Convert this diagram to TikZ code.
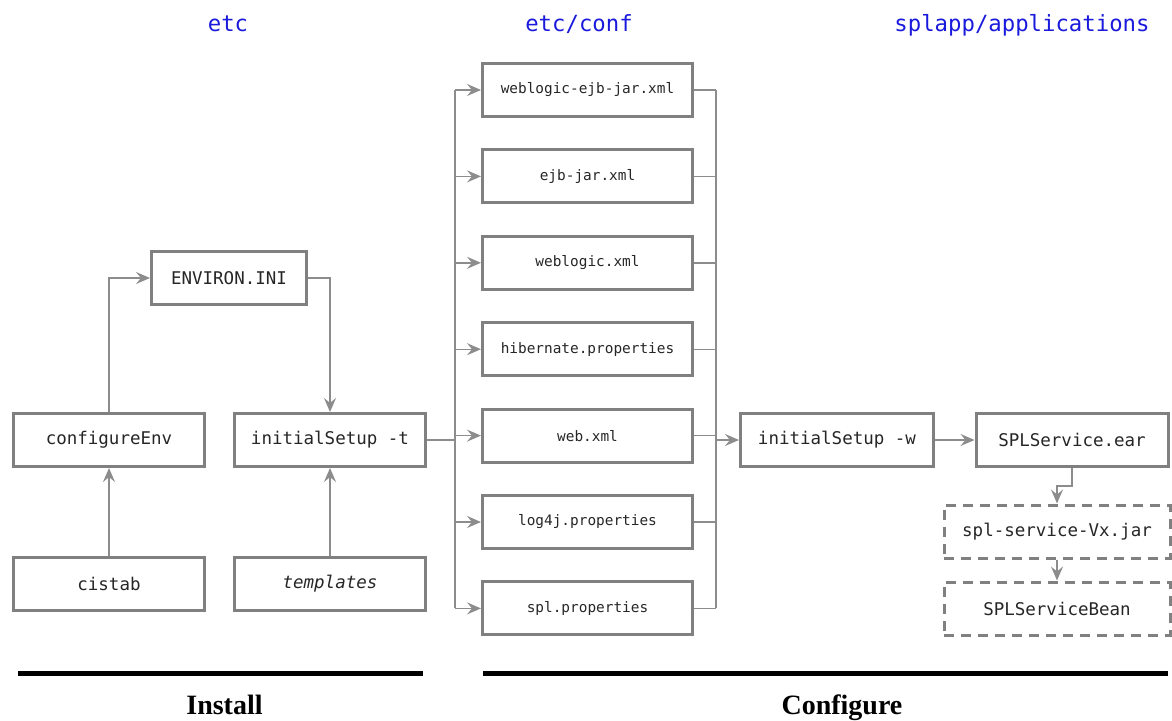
\documentclass[tikz,border=0pt]{standalone}
\usepackage{fontspec}
\setmainfont{Liberation Serif}
\setmonofont{DejaVu Sans Mono}
\usetikzlibrary{arrows.meta,positioning}

\definecolor{dirblue}{RGB}{26,26,220}
\definecolor{boxgray}{RGB}{128,128,128}
\definecolor{linkgray}{RGB}{140,140,140}

\tikzset{
  bigbox/.style={draw=boxgray,line width=3pt,minimum width=191pt,minimum height=53pt,
    inner sep=0pt,text=black!85,font=\ttfamily\fontsize{17.5}{20}\selectfont},
  midbox/.style={bigbox,minimum width=210pt,font=\ttfamily\fontsize{14.4}{16}\selectfont},
  jarbox/.style={bigbox,minimum width=226pt,dash pattern=on 10pt off 7pt},
  link/.style={draw=linkgray,line width=1.4pt},
  tip/.style={-{Stealth[length=14pt,width=12pt,inset=5pt]}},
  dirname/.style={text=dirblue,anchor=base,font=\ttfamily\fontsize{22.3}{24}\selectfont},
  phase/.style={anchor=base,font=\bfseries\fontsize{28}{30}\selectfont},
  phaseline/.style={line width=5pt,black}
}

\begin{document}
\begin{tikzpicture}[x=1pt,y=-1pt]
  \useasboundingbox (0,0) rectangle (1172,720);

  % directories
  \node[dirname] (detc) at (228,31) {etc};
  \node[dirname] (dconf) at (579,31) {etc/conf};
  \node[dirname] (dapps) at (1022,31) {splapp/applications};

  % install part
  \node[bigbox] (conf) at (109,440) {configureEnv};
  \node[bigbox] (initt) at (330,440) {initialSetup -t};
  \node[bigbox,minimum width=155pt] (env) at (229,278) {ENVIRON.INI};
  \node[bigbox] (cistab) at (109,584) {cistab};
  \node[bigbox] (tmpl) at (330,584) {\itshape templates};

  \draw[link,tip] (cistab) -- (conf);
  \draw[link,tip] (tmpl) -- (initt);
  \draw[link,tip] (conf.north) |- (env.west);
  \draw[link,tip] (env.east) -| (initt.north);

  % configuration files
  \foreach \lbl [count=\i] in {weblogic-ejb-jar.xml,ejb-jar.xml,weblogic.xml,
      hibernate.properties,web.xml,log4j.properties,spl.properties}{
    \node[midbox] (m\i) at (587.5,{90+86.4*(\i-1)}) {\lbl};
  }

  \coordinate (lbus) at (455,440);
  \coordinate (rbus) at (716,440);
  \draw[link] (initt.east) -- (lbus);
  \draw[link] (lbus |- m1.west) -- (lbus |- m7.west);
  \draw[link] (rbus |- m1.east) -- (rbus |- m7.east);
  \foreach \i in {1,...,7}{
    \draw[link,tip] (lbus |- m\i.west) -- (m\i.west);
    \draw[link] (m\i.east) -- (rbus |- m\i.east);
  }

  % application
  \node[bigbox,minimum width=193pt] (initw) at (837,440) {initialSetup -w};
  \node[bigbox,minimum width=192pt] (ear) at (1072,440) {SPLService.ear};
  \node[jarbox] (jar) at (1057,531.5) {spl-service-Vx.jar};
  \node[jarbox] (bean) at (1057,608.5) {SPLServiceBean};

  \draw[link,tip] (rbus) -- (initw.west);
  \draw[link,tip] (initw) -- (ear);
  \draw[link,tip] (ear.south) -- ++(0,18) -| (jar.north);
  \draw[link,tip] (jar) -- (bean);

  % phases
  \coordinate (ia) at (18,673);
  \coordinate (ib) at (423,673);
  \coordinate (ca) at (483,673);
  \coordinate (cb) at (1168,673);
  \draw[phaseline] (ia) -- (ib);
  \draw[phaseline] (ca) -- (cb);
  \node[phase] (install) at (224.5,714) {Install};
  \node[phase] (configure) at (842,714) {Configure};
\end{tikzpicture}
\end{document}
